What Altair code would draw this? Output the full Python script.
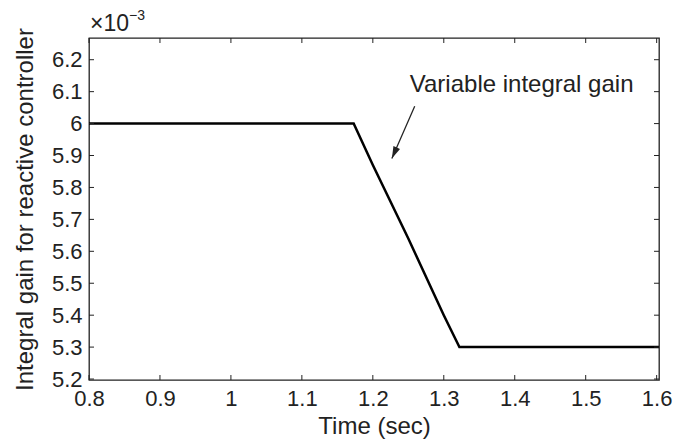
import altair as alt
import pandas as pd

# ---- data ----
time_s = [0.8, 1.173, 1.2, 1.25, 1.3, 1.322, 1.6033]
gain_e3 = [6.0, 6.0, 5.87, 5.64, 5.40, 5.30, 5.30]

x_ticks = [0.8, 0.9, 1.0, 1.1, 1.2, 1.3, 1.4, 1.5, 1.6]
y_ticks = [5.2, 5.3, 5.4, 5.5, 5.6, 5.7, 5.8, 5.9, 6.0, 6.1, 6.2]
x_domain = [0.8, 1.6033]
y_domain = [5.197, 6.268]

annotation_text = ["Variable integral gain"]
annotation_x = [1.2521]
annotation_y = [6.099]
arrow_x = [1.259]
arrow_y = [6.054]
arrow_x2 = [1.2268]
arrow_y2 = [5.891]

W, H = 570, 342
FONT = "Liberation Sans"
INK = "#222"

xs = alt.Scale(domain=x_domain, nice=False, zero=False)
ys = alt.Scale(domain=y_domain, nice=False, zero=False)
X_TITLE = "Time (sec)"
Y_TITLE = "Integral gain for reactive controller"
x_axis = alt.Axis(values=x_ticks, format="~g", ticks=False, domain=False,
                  grid=False, labelFontSize=22, labelFont=FONT, labelFlush=False,
                  labelColor=INK, labelPadding=8,
                  titleFontSize=24, titleFont=FONT, titleColor=INK,
                  titleFontWeight="normal", titleBaseline="alphabetic", titleY=53)
y_axis = alt.Axis(values=y_ticks, format="~g", ticks=False, domain=False,
                  grid=False, labelFontSize=22, labelFont=FONT, labelFlush=False,
                  labelColor=INK, labelPadding=7,
                  titleFontSize=24, titleFont=FONT, titleColor=INK,
                  titleFontWeight="normal", titleBaseline="alphabetic", titleX=-57)


def X(f):
    return alt.X(f, scale=xs, axis=x_axis, title=X_TITLE)


def Y(f):
    return alt.Y(f, scale=ys, axis=y_axis, title=Y_TITLE)


df = pd.DataFrame({"t": time_s, "g": gain_e3})
line = alt.Chart(df).mark_line(color="black", strokeWidth=2.5).encode(
    x=X("t:Q"), y=Y("g:Q"))

xt = pd.DataFrame({"v": x_ticks})
yt = pd.DataFrame({"v": y_ticks})
bot = alt.Chart(xt).mark_rule(color=INK, strokeWidth=1).encode(
    x=X("v:Q"), y=alt.value(H), y2=alt.value(H - 5))
top = alt.Chart(xt).mark_rule(color=INK, strokeWidth=1).encode(
    x=X("v:Q"), y=alt.value(0), y2=alt.value(5))
lft = alt.Chart(yt).mark_rule(color=INK, strokeWidth=1).encode(
    y=Y("v:Q"), x=alt.value(0), x2=alt.value(5))
rgt = alt.Chart(yt).mark_rule(color=INK, strokeWidth=1).encode(
    y=Y("v:Q"), x=alt.value(W), x2=alt.value(W - 5))

ann = pd.DataFrame({"label": annotation_text, "x": annotation_x, "y": annotation_y})
text = alt.Chart(ann).mark_text(align="left", baseline="alphabetic", fontSize=24,
                                font=FONT, color=INK).encode(
    x=X("x:Q"), y=Y("y:Q"), text="label:N")

arr = pd.DataFrame({"x": arrow_x, "y": arrow_y, "x2": arrow_x2, "y2": arrow_y2})
shaft = alt.Chart(arr).mark_rule(color=INK, strokeWidth=1.3).encode(
    x=X("x:Q"), y=Y("y:Q"), x2="x2:Q", y2="y2:Q")
head = alt.Chart(arr).mark_point(shape="M0,0L-0.3,1L0.3,1Z", filled=True, size=576,
                                 angle=204, color=INK, opacity=1).encode(
    x=X("x2:Q"), y=Y("y2:Q"))

expo = pd.DataFrame({"a": ["×10"], "b": ["−3"]})
e1 = alt.Chart(expo).mark_text(align="left", baseline="alphabetic", fontSize=23,
                               font=FONT, color=INK).encode(
    x=alt.value(1), y=alt.value(-7), text="a:N")
e2 = alt.Chart(expo).mark_text(align="left", baseline="alphabetic", fontSize=14,
                               font=FONT, color=INK).encode(
    x=alt.value(40), y=alt.value(-18), text="b:N")

chart = alt.layer(line, bot, top, lft, rgt, shaft, head, text, e1, e2).properties(
    width=W, height=H,
    background="white",
    autosize=alt.AutoSizeParams(type="none"),
    padding={"left": 81, "top": 30, "right": 20, "bottom": 59},
).configure_view(stroke=INK, strokeWidth=1.3)

chart.save("out.html", embed_options={"renderer": "svg", "actions": False})
